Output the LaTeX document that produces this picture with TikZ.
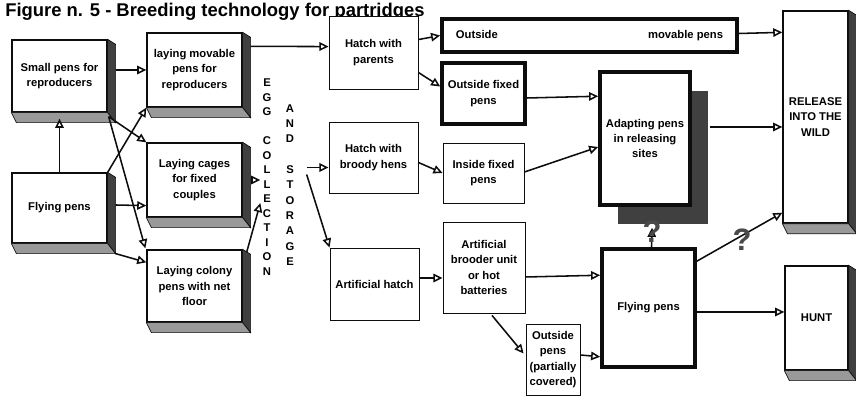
\documentclass[tikz,border=0pt]{standalone}
\usepackage{fontspec}
\setmainfont{Liberation Sans}
\usetikzlibrary{arrows.meta, calc, shadows}
\definecolor{tinta}{gray}{0.05}
\definecolor{caraoscura}{gray}{0.25}
\definecolor{caraclara}{gray}{0.6}
\definecolor{sombra}{gray}{0.25}
\tikzset{
  every picture/.style={font=\fontsize{8}{11}\selectfont\bfseries, >={Triangle[open, length=6.5pt, width=6pt]}},
  raised/.style={draw=tinta, fill=white, line width=0.9pt, align=center, inner sep=2pt},
  plain/.style={draw=tinta, fill=white, line width=0.6pt, align=center, inner sep=2pt},
  heavy/.style={draw=tinta, fill=white, line width=2.5pt, align=center, inner sep=2pt},
  letters/.style={align=center, inner sep=0pt, font=\fontsize{8}{#1}\selectfont\bfseries},
  face/.style={draw=tinta, line width=0.5pt},
  flow/.style={->, line width=1.1pt, tinta},
  doubt/.style={text=tinta!75, font=\fontsize{22}{22}\selectfont\bfseries, inner sep=0pt},
}

\begin{document}
\begin{tikzpicture}[x=0.025cm, y=-0.025cm]
  \useasboundingbox (0,0) rectangle (856,398);
  \node[anchor=base west, inner sep=0pt, font=\fontsize{13.1}{15}\selectfont\bfseries] (title) at (5,17) {Figure n. 5 - Breeding technology for partridges};

  % reproducers and laying
  \node[raised, minimum width=2.375cm, minimum height=1.8cm] (small) at (59.5,76) {Small pens for\\reproducers};
  \node[raised, minimum width=2.375cm, minimum height=1.75cm] (flyL) at (59.5,208) {Flying pens};
  \node[raised, minimum width=2.375cm, minimum height=1.85cm] (laymov) at (194.5,70) {laying movable\\pens for\\reproducers};
  \node[raised, minimum width=2.375cm, minimum height=1.85cm] (laycage) at (194.5,180) {Laying cages\\for fixed\\couples};
  \node[raised, minimum width=2.375cm, minimum height=1.8cm] (laycol) at (194.5,286) {Laying colony\\pens with net\\floor};

  \node[letters=10.3pt] (egg) at (267,177) {E\\G\\G\\[10.3pt]C\\O\\L\\L\\E\\C\\T\\I\\O\\N};
  \node[letters=10.9pt] (stor) at (290,185) {A\\N\\D\\[10.9pt]S\\T\\O\\R\\A\\G\\E};

  % hatching
  \node[plain, minimum width=2.225cm, minimum height=1.825cm] (hpar) at (373.5,52.5) {Hatch with\\parents};
  \node[plain, minimum width=2.225cm, minimum height=1.775cm] (hbro) at (373.5,157.5) {Hatch with\\broody hens};
  \node[plain, minimum width=2.225cm, minimum height=1.8cm] (ahatch) at (374.5,284) {Artificial hatch};

  % rearing
  \node[heavy, minimum width=7.375cm, minimum height=0.825cm, inner xsep=0pt] (outmov) at (589.5,35.5) {\makebox[6.675cm]{Outside\hfill movable pens}};
  \node[heavy, minimum width=2.075cm, minimum height=1.525cm] (outfix) at (483.5,93.5) {Outside fixed\\pens};
  \node[plain, minimum width=2.025cm, minimum height=1.5cm] (infix) at (483.5,173) {Inside fixed\\pens};
  \node[plain, minimum width=2.05cm, minimum height=2.275cm] (brood) at (484,267.5) {Artificial\\brooder unit\\or hot\\batteries};
  \node[plain, minimum width=1.35cm, minimum height=1.775cm, inner xsep=1pt] (outpart) at (553,359.5) {Outside\\pens\\(partially\\covered)};
  \node[heavy, minimum width=2.25cm, minimum height=3.325cm,
        drop shadow={shadow xshift=0.44cm, shadow yshift=-0.48cm, fill=sombra, opacity=1}] (adapt) at (645,138.5) {Adapting pens\\in releasing\\sites};
  \node[heavy, minimum width=2.325cm, minimum height=2.95cm] (flyR) at (648.5,308) {Flying pens};

  % destinations
  \node[raised, minimum width=1.625cm, minimum height=5.3cm] (release) at (815.5,117) {RELEASE\\INTO THE\\WILD};
  \node[raised, minimum width=1.575cm, minimum height=2.6cm] (hunt) at (816.5,318) {HUNT};

  % raised faces
  \foreach \n in {small, flyL, laymov, laycage, laycol, release, hunt} {
    \filldraw[face, fill=caraoscura] (\n.north east) -- ++(8,5) -- ($(\n.south east)+(8,10)$) -- (\n.south east) -- cycle;
    \filldraw[face, fill=caraclara] (\n.south west) -- ++(5,10) -- ($(\n.south east)+(8,10)$) -- (\n.south east) -- cycle;
  }

  \draw[flow] ($(small.east |- laymov.west)+(8,0)$) -- (laymov.west);
  \draw[flow] (flyL.north) -- ($(small.south)+(0,6)$);
  \draw[flow] ($(small.south east)+(1,4)$) -- (laycage.north west);
  \draw[flow] ($(small.south east)+(1,4)$) -- ($(laycol.north west)+(-1,-1)$);
  \draw[flow] (flyL.north east) -- (laymov.south west);
  \draw[flow] ($(flyL.east)+(8,-3)$) -- ($(laycage.south west)+(0,-12)$);
  \draw[flow] ($(flyL.south east)+(8,10)$) -- ($(laycol.north west)+(0,13)$);
  \draw[flow] ($(laymov.north east)+(8,14)$) -- ($(hpar.north west)+(0,31)$);
  \draw[flow] ($(laycage.east)+(8,0)$) -- ($(egg.west |- laycage.east)+(-2,0)$);
  \draw[flow] ($(laycol.north east)+(4,3)$) -- ($(egg.west)+(-2,26)$);
  \draw[flow] ($(stor.east |- hbro.west)+(12,10)$) -- ($(hbro.west)+(0,10)$);
  \draw[flow] ($(stor.east |- hbro.west)+(12,17)$) -- (ahatch.north west);
  \draw[flow] ($(hpar.north east)+(0,24)$) -- (outmov.west);
  \draw[flow] ($(hpar.east)+(0,20)$) -- ($(outfix.west)+(0,-7)$);
  \draw[flow] ($(hbro.east)+(0,5)$) -- (infix.west);
  \draw[flow] ($(ahatch.east)+(0,-6)$) -- ($(brood.west)+(0,10.5)$);
  \draw[flow] ($(brood.south)+(8,2)$) -- ($(outpart.west)+(-2,-6)$);
  \draw[flow] ($(outmov.east)+(0,-2)$) -- ($(release.north west)+(0,22)$);
  \draw[flow] ($(outfix.east)+(0,4.5)$) -- ($(adapt.north west)+(0,26)$);
  \draw[flow] ($(infix.east)+(0,-1)$) -- ($(adapt.west)+(0,8.5)$);
  \draw[flow] ($(adapt.east)+(18,-11.5)$) -- ($(release.west)+(0,10)$);
  \draw[flow] ($(brood.east)+(0,9.5)$) -- ($(flyR.north west)+(0,28)$);
  \draw[flow] ($(outpart.east)+(0,-4.5)$) -- ($(flyR.south west)+(0,-12)$);
  \draw[flow] ($(flyR.north)+(3,0)$) -- ($(adapt.south)+(7,21)$);
  \draw[flow] ($(flyR.north east)+(0,14)$) -- ($(release.south west)+(0,-11)$);
  \draw[flow] ($(flyR.east)+(0,4)$) -- ($(hunt.west)+(0,-6)$);

  \node[doubt] (q1) at (652,232) {?};
  \node[doubt] (q2) at (742,240) {?};
\end{tikzpicture}
\end{document}
